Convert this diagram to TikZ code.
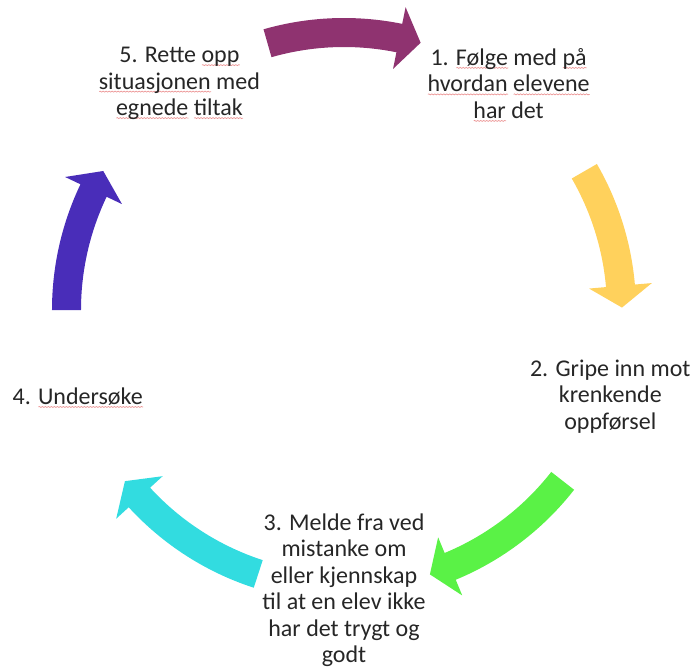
\documentclass[tikz,border=0pt]{standalone}
\usepackage{fontspec}
\setmainfont{Carlito}
\usetikzlibrary{calc, decorations.pathmorphing}

\definecolor{plum}{RGB}{143,51,112}
\definecolor{sun}{RGB}{255,209,92}
\definecolor{lime}{RGB}{90,242,70}
\definecolor{aqua}{RGB}{50,220,224}
\definecolor{indigo}{RGB}{73,45,185}
\definecolor{spellred}{RGB}{236,150,150}

% wavy spell-check line under a word
\newlength{\wavewd}
\newcommand{\spell}[1]{\settowidth{\wavewd}{#1}\rlap{\smash{\tikz[baseline=0pt]\draw[spellred, line width=0.7pt, decorate, decoration={snake, amplitude=0.5pt, segment length=3pt}] (0pt,-2.5pt) -- (\wavewd,-2.5pt);}}#1}

\tikzstyle{stage} = [align=center, inner sep=0pt, text=black!85, font=\fontsize{24}{26.5}\selectfont]

% curved block arrow on the ring: colour, start angle, tip angle
\newcommand{\cyclearrow}[3]{%
\fill[#1] (#2:292) arc[start angle=#2, end angle=#3+4.5, radius=292] -- (#3+4.5:309) -- (#3:278)
  -- (#3+4.5:246) -- (#3+4.5:263) arc[start angle=#3+4.5, end angle=#2, radius=263] -- cycle;}

\begin{document}
\begin{tikzpicture}[x=1pt, y=1pt]
\useasboundingbox (-344,-359) rectangle (348,310);

%% NODES

\coordinate (c) at (0,0);
\node (s1) [stage] at (54:280) {1. \spell{Følge} med \spell{på}\\ \spell{hvordan} \spell{elevene}\\ \spell{har} det};
\node (s2) [stage] at (-18:280) {2. Gripe inn mot\\ krenkende\\ oppførsel};
\node (s3) [stage] at (-90:280) {3. Melde fra ved\\ mistanke om\\ eller kjennskap\\ til at en elev ikke\\ har det trygt og\\ godt};
\node (s4) [stage] at (198:280) {4. \spell{Undersøke}};
\node (s5) [stage] at (126:280) {5. Rette \spell{opp}\\ \spell{situasjonen} med\\ \spell{egnede} \spell{tiltak}};

%% ARROWS

\cyclearrow{plum}{106}{74}
\cyclearrow{sun}{30}{0.5}
\cyclearrow{lime}{-38}{-72}
\cyclearrow{aqua}{-108}{-142}
\cyclearrow{indigo}{180}{150}
\end{tikzpicture}
\end{document}
